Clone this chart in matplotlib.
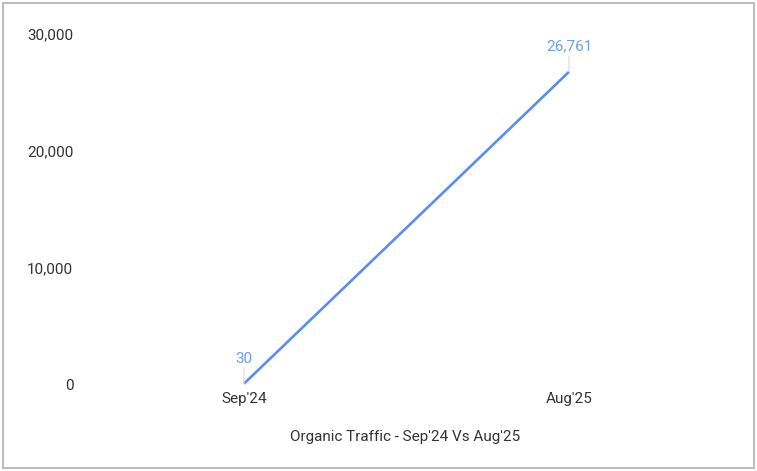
import matplotlib
matplotlib.use("Agg")
import matplotlib.pyplot as plt
from matplotlib.patches import Rectangle

months = ["Sep'24", "Aug'25"]
traffic = [30, 26761]
y_ticks = [0, 10000, 20000, 30000]
x_title = "Organic Traffic - Sep'24 Vs Aug'25"

plt.rcParams["font.family"] = ["Roboto", "DejaVu Sans"]

fig = plt.figure(figsize=(7.57, 4.71), dpi=100)
ax = fig.add_axes([90 / 757, 87 / 471, 630 / 757, 350 / 471])

x = list(range(len(months)))
ax.plot(x, traffic, color="#5b8def", linewidth=1.9, clip_on=False, solid_capstyle="butt")

for xi, v in zip(x, traffic):
    # thin leader line from the point up to its value label
    ax.annotate("", xy=(xi, v), xytext=(0, 11), textcoords="offset points",
                arrowprops=dict(arrowstyle="-", color="#d6d6d6", lw=0.8,
                                shrinkA=0, shrinkB=0))
    ax.annotate(f"{v:,}", xy=(xi, v), xytext=(0, 13), textcoords="offset points",
                ha="center", va="bottom", color="#6d9eee", fontsize=11)

ax.set_xlim(-154 / 325, 1 + 151 / 325)
ax.set_ylim(0, 30000)
ax.set_xticks(x)
ax.set_xticklabels(months)
ax.set_yticks(y_ticks)
ax.set_yticklabels([f"{t:,}" for t in y_ticks])
ax.tick_params(axis="both", length=0, labelsize=11, colors="#333333")
ax.tick_params(axis="y", pad=12)
ax.tick_params(axis="x", pad=6)
for s in ax.spines.values():
    s.set_visible(False)
ax.set_xlabel(x_title, fontsize=11, color="#333333", labelpad=17)

fig.patches.append(Rectangle((3 / 757, 3 / 471), 751 / 757, 465 / 471,
                             transform=fig.transFigure, fill=False,
                             edgecolor="#bdbdbd", linewidth=1.5))

fig.savefig("out.png", dpi=100)
